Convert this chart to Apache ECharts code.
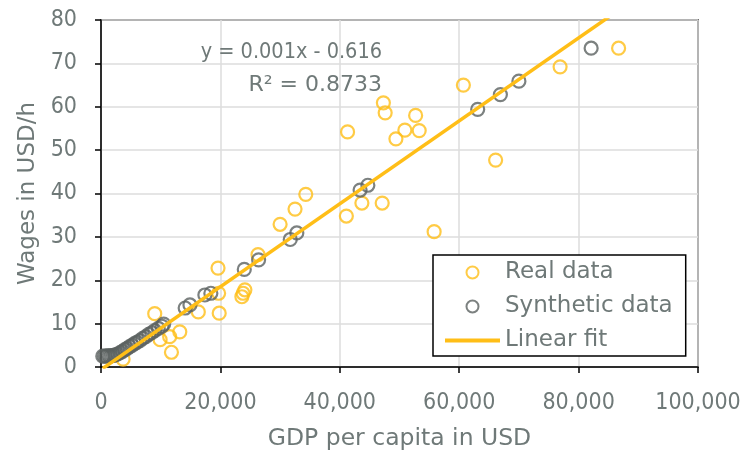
<!DOCTYPE html>
<html>
<head>
<meta charset="utf-8">
<script src="https://cdn.jsdelivr.net/npm/echarts@6/dist/echarts.min.js"></script>
<style>html,body{margin:0;padding:0;background:#fff}#c{width:743px;height:453px}</style>
</head>
<body>
<div id="c"></div>
<script>
// GDP per capita (USD) and wages (USD/h)
const realGdp = [3700, 9000, 9900, 11500, 13200, 11800, 16300, 19800, 19700, 19600, 23600, 23800, 24100, 26300, 30000, 32500, 34300, 41100, 43700, 47100, 41300, 47300, 47600, 49400, 50900, 52700, 53300, 55800, 60700, 66100, 76900, 86700];
const realWage = [1.8, 12.3, 6.3, 7.0, 8.1, 3.4, 12.7, 12.4, 17.0, 22.8, 16.2, 17.0, 17.8, 25.9, 32.9, 36.4, 39.8, 34.8, 37.8, 37.8, 54.2, 60.9, 58.6, 52.6, 54.6, 58.0, 54.5, 31.2, 65.0, 47.7, 69.2, 73.5];

const synGdp = [300, 600, 900, 1200, 1500, 1800, 2100, 2400, 2800, 3200, 3600, 4000, 4400, 4800, 5200, 5600, 6000, 6500, 7000, 7500, 8000, 8500, 9000, 9600, 10200, 10500, 14100, 14900, 17400, 18400, 24000, 26400, 31700, 32800, 43400, 44700, 63100, 66900, 70000, 82100];
const synWage = [2.5, 2.5, 2.5, 2.6, 2.5, 2.6, 2.7, 2.8, 3.0, 3.3, 3.6, 4.0, 4.3, 4.7, 5.0, 5.4, 5.7, 6.1, 6.6, 7.0, 7.5, 7.9, 8.4, 8.9, 9.4, 9.9, 13.6, 14.3, 16.6, 17.0, 22.5, 24.7, 29.4, 30.9, 40.8, 41.9, 59.4, 62.8, 65.9, 73.5];

// Linear fit coefficients and range
const fitCoef = [0.000956, -0.616];
const fitRange = [300, 87000];

const xTicks = [0, 20000, 40000, 60000, 80000, 100000];
const yTicks = [0, 10, 20, 30, 40, 50, 60, 70, 80];

const gray = '#6f7978';
const gold = '#FFBE17';
const synCol = '#5b6160';
const FONT = '"DejaVu Sans"';
const FONTC = '"DejaVu Sans Condensed", "DejaVu Sans"';

const chart = echarts.init(document.getElementById('c'), null, {renderer: 'canvas'});
const pair = (xs, ys) => xs.map((x, i) => [x, ys[i]]);
const fitData = fitRange.map(x => [x, fitCoef[0] * x + fitCoef[1]]);

chart.setOption({
  animation: false,
  backgroundColor: '#fff',
  grid: {left: 101, right: 45, top: 20, bottom: 86, containLabel: false, outerBoundsMode: 'none',
    show: true, borderColor: '#000', borderWidth: 1.5, backgroundColor: 'transparent'},
  xAxis: {
    type: 'value', min: xTicks[0], max: xTicks[xTicks.length - 1], interval: 20000,
    name: 'GDP per capita in USD', nameLocation: 'middle', nameGap: 60,
    nameTextStyle: {color: gray, fontSize: 23.5, fontFamily: FONT},
    axisLine: {show: true, lineStyle: {color: '#000', width: 1.5}},
    axisTick: {show: true, length: 6, lineStyle: {color: '#000', width: 1.5}},
    axisLabel: {color: gray, fontSize: 23, fontFamily: FONTC, margin: 25,
      formatter: v => v.toLocaleString('en-US')},
    splitLine: {show: true, lineStyle: {color: '#dcdcdc', width: 1.5}}
  },
  yAxis: {
    type: 'value', min: yTicks[0], max: yTicks[yTicks.length - 1], interval: 10,
    name: 'Wages in USD/h', nameLocation: 'middle', nameGap: 61, nameRotate: 90,
    nameTextStyle: {color: gray, fontSize: 23, fontFamily: FONT},
    axisLine: {show: true, lineStyle: {color: '#000', width: 1.5}},
    axisTick: {show: true, length: 6, lineStyle: {color: '#000', width: 1.5}},
    axisLabel: {color: gray, fontSize: 23, fontFamily: FONTC, margin: 24},
    splitLine: {show: true, lineStyle: {color: '#dcdcdc', width: 1.5}}
  },
  legend: {
    orient: 'vertical', left: 433, top: 255,
    padding: [6, 13, 4, 12], itemGap: 11, itemWidth: 55, itemHeight: 12, itemTextGap: 5,
    backgroundColor: '#fff', borderColor: '#000', borderWidth: 1.5,
    textStyle: {color: gray, fontSize: 23, fontFamily: FONT},
    data: [
      {name: 'Real data', icon: 'circle', itemStyle: {color: 'rgba(0,0,0,0)', borderColor: gold, borderWidth: 2}},
      {name: 'Synthetic data', icon: 'circle', itemStyle: {color: 'rgba(0,0,0,0)', borderColor: synCol, borderWidth: 2}},
      {name: 'Linear fit', icon: 'path://M0,0 H55 V4 H0 Z', itemStyle: {color: gold, borderWidth: 0}}
    ]
  },
  graphic: [
    {type: 'text', right: 743 - 382, top: 41, z: 10, style: {text: 'y = 0.001x - 0.616', fill: gray, font: '21.5px "DejaVu Sans Condensed", "DejaVu Sans"'}},
    {type: 'text', right: 743 - 382, top: 74, z: 10, style: {text: 'R² = 0.8733', fill: gray, font: '22px "DejaVu Sans"'}}
  ],
  series: [
    {
      name: 'Real data', type: 'scatter', data: pair(realGdp, realWage),
      symbol: 'circle', symbolSize: 13,
      itemStyle: {color: 'rgba(0,0,0,0)', borderColor: gold, borderWidth: 2.2}, z: 2
    },
    {
      name: 'Synthetic data', type: 'scatter', data: pair(synGdp, synWage),
      symbol: 'circle', symbolSize: 13,
      itemStyle: {color: 'rgba(0,0,0,0)', borderColor: synCol, borderWidth: 2.2}, z: 3
    },
    {
      name: 'Linear fit', type: 'line', data: fitData, symbol: 'none', showSymbol: false,
      lineStyle: {color: gold, width: 3.5}, itemStyle: {color: gold}, z: 4, clip: true
    }
  ]
});
</script>
</body>
</html>
